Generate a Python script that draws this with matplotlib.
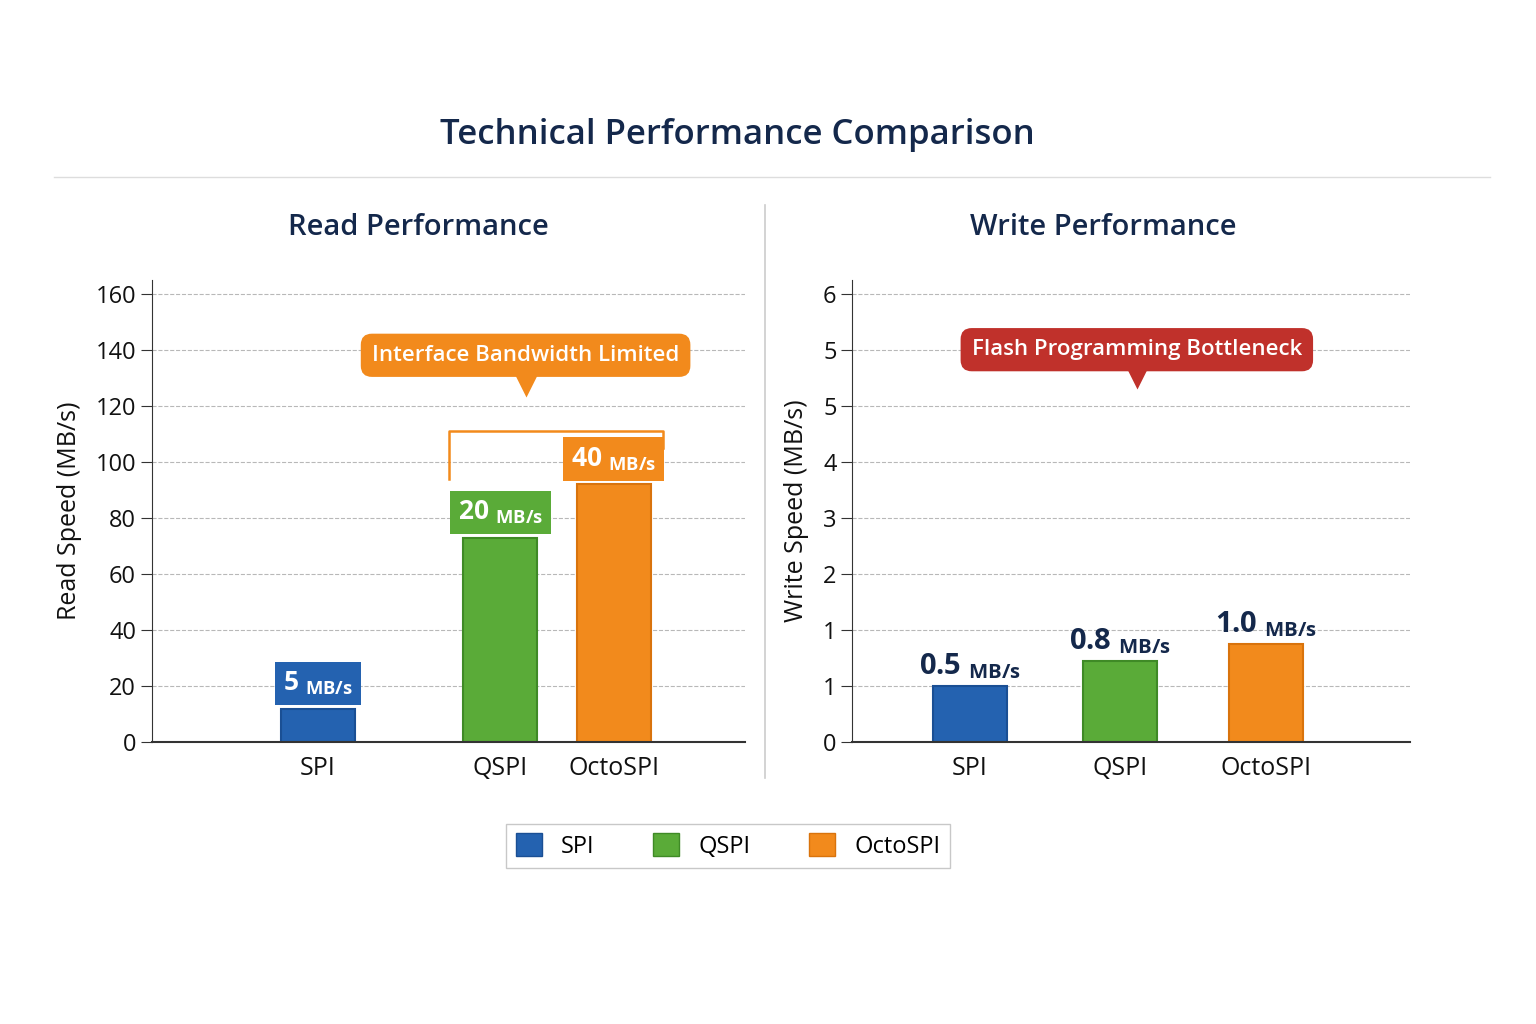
import matplotlib.pyplot as plt
from matplotlib.lines import Line2D
from matplotlib.patches import Patch

plt.rcParams["font.family"] = ["Open Sans", "DejaVu Sans"]

categories = ["SPI", "QSPI", "OctoSPI"]
colors = ["#2462b0", "#5aab38", "#f28a1c"]
edge_colors = ["#1a4f94", "#3f8a26", "#d9730c"]

read_heights = [12, 73, 92]
read_labels = ["5", "20", "40"]
read_ticks = [0, 20, 40, 60, 80, 100, 120, 140, 160]

write_heights = [1.0, 1.45, 1.75]
write_labels = ["0.5", "0.8", "1.0"]
write_tick_pos = [0, 1, 2, 3, 4, 5, 6, 7, 8]
write_tick_labels = ["0", "1", "1", "2", "3", "4", "5", "5", "6"]

navy = "#14284b"
grid_c = "#b8b8b8"

fig = plt.figure(figsize=(15.36, 10.24), dpi=100)
fig.patch.set_facecolor("white")

fig.text(0.48, 0.868, "Technical Performance Comparison", ha="center", va="center",
         fontsize=25, color=navy, fontweight="semibold")
fig.add_artist(Line2D([0.035, 0.97], [0.827, 0.827], color="#dddddd", lw=1))
fig.add_artist(Line2D([0.498, 0.498], [0.24, 0.80], color="#cccccc", lw=1.2))


def style(ax):
    for s in ["top", "right"]:
        ax.spines[s].set_visible(False)
    ax.spines["left"].set_color("#333333")
    ax.spines["bottom"].set_color("#333333")
    ax.spines["bottom"].set_linewidth(1.5)
    ax.tick_params(axis="y", labelsize=17, length=8, color="#333333", labelcolor="#111111")
    ax.tick_params(axis="x", labelsize=18, length=0, pad=10, labelcolor="#111111")
    ax.set_xlim(0, 10)


# Read
ax1 = fig.add_axes([0.099, 0.275, 0.386, 0.452])
style(ax1)
xr = [2.8, 5.87, 7.79]
ax1.set_ylim(0, 165)
ax1.set_yticks(read_ticks)
ax1.yaxis.grid(True, ls="--", color=grid_c, lw=0.8)
ax1.set_axisbelow(True)
ax1.bar(xr, read_heights, width=1.25, color=colors, edgecolor=edge_colors, lw=1.5)
ax1.set_xticks(xr)
ax1.set_xticklabels(categories)
ax1.set_ylabel("Read Speed (MB/s)", fontsize=18, color="#111111", labelpad=10)
ax1.set_title("Read Performance", fontsize=21, color=navy, pad=32, x=0.45, fontweight="semibold")
for x, h, lab, c in zip(xr, read_heights, read_labels, colors):
    ax1.text(x, h + 9, f"{lab} " + r"$\mathregular{_{MB/s}}$", ha="center", va="center",
             fontsize=19, color="white", fontweight="bold",
             bbox=dict(boxstyle="square,pad=0.3", fc=c, ec="none"))
# bracket
ax1.plot([5.0, 5.0, 8.62, 8.62], [94, 111, 111, 105], color="#f28a1c", lw=1.8)
ax1.text(6.3, 138, "Interface Bandwidth Limited", ha="center", va="center",
         fontsize=16, color="white", fontweight="semibold",
         bbox=dict(boxstyle="round,pad=0.5", fc="#f28a1c", ec="none"))
ax1.plot([6.3], [127], marker="v", ms=16, color="#f28a1c", mec="none")

# Write
ax2 = fig.add_axes([0.555, 0.275, 0.363, 0.452])
style(ax2)
xw = [2.11, 4.8, 7.42]
ax2.set_ylim(0, 8.25)
ax2.set_yticks(write_tick_pos)
ax2.set_yticklabels(write_tick_labels)
ax2.yaxis.grid(True, ls="--", color=grid_c, lw=0.8)
ax2.set_axisbelow(True)
ax2.bar(xw, write_heights, width=1.33, color=colors, edgecolor=edge_colors, lw=1.5)
ax2.set_xticks(xw)
ax2.set_xticklabels(categories)
ax2.set_ylabel("Write Speed (MB/s)", fontsize=18, color="#111111", labelpad=10)
ax2.set_title("Write Performance", fontsize=21, color=navy, pad=32, x=0.45, fontweight="semibold")
for x, h, lab in zip(xw, write_heights, write_labels):
    ax2.text(x, h + 0.35, f"{lab} " + r"$\mathregular{_{MB/s}}$", ha="center", va="center",
             fontsize=21, color=navy, fontweight="bold")
ax2.text(5.1, 7.0, "Flash Programming Bottleneck", ha="center", va="center",
         fontsize=16, color="white", fontweight="semibold",
         bbox=dict(boxstyle="round,pad=0.5", fc="#c0312b", ec="none"))
ax2.plot([5.1], [6.5], marker="v", ms=16, color="#c0312b", mec="none")

handles = [Patch(fc=c, ec=e) for c, e in zip(colors, edge_colors)]
fig.legend(handles, categories, loc="center", bbox_to_anchor=(0.474, 0.174), ncol=3,
           fontsize=17, frameon=True, fancybox=False, edgecolor="#bbbbbb",
           handlelength=1.1, handleheight=1.1, columnspacing=2.5)

fig.savefig("out.png", dpi=100, facecolor="white")
